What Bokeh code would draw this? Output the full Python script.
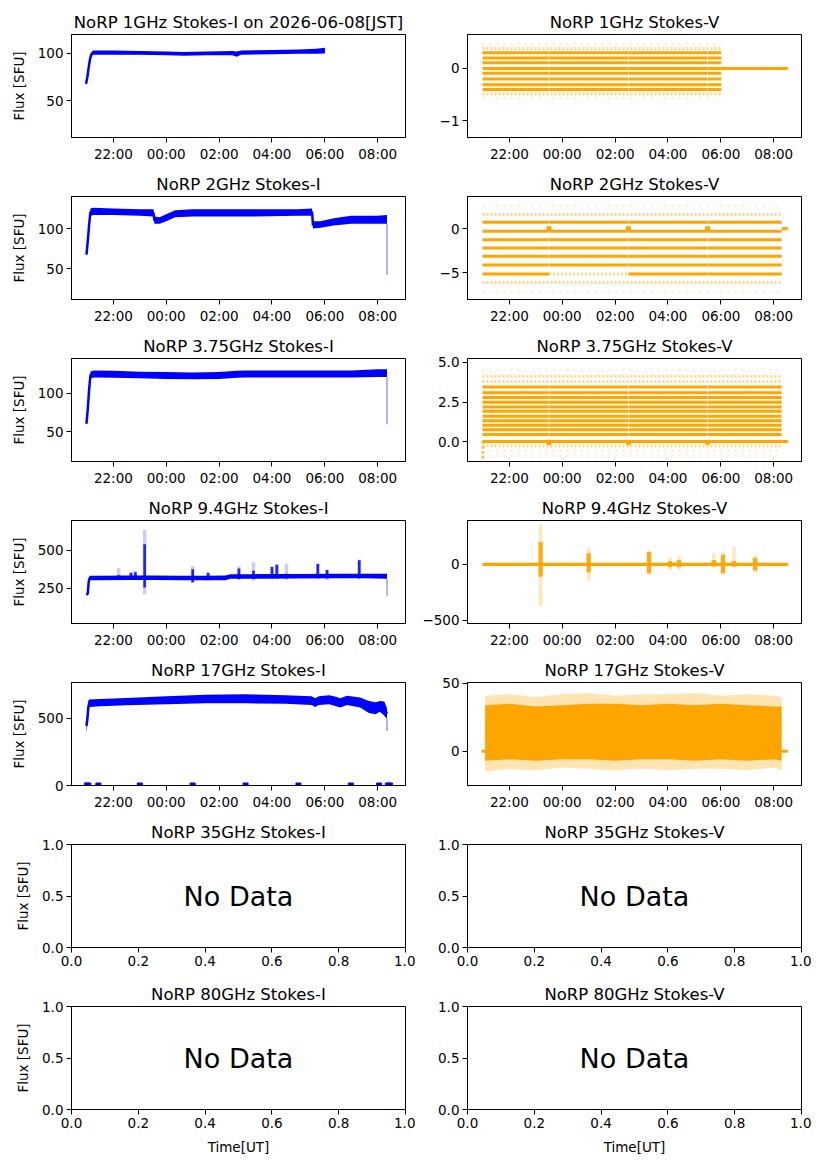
import pandas as pd
from bokeh.core.properties import value
from bokeh.embed import file_html
from bokeh.layouts import gridplot
from bokeh.models import FixedTicker, Range1d
from bokeh.plotting import figure
from bokeh.resources import INLINE

BASE = pd.Timestamp("2026-06-07")
FONT = "DejaVu Sans"
BLUE = "blue"
ORANGE = "orange"
MIN = 60 * 1000


def ms(hhmm):
    # times before noon are on the next UT day
    h, m = (int(v) for v in hhmm.split(":"))
    day = 1 if h < 12 else 0
    return (BASE + pd.Timedelta(days=day, hours=h, minutes=m)).value / 1e6


def mss(lst):
    return [ms(t) for t in lst]


time_ticks = ["22:00", "00:00", "02:00", "04:00", "06:00", "08:00"]
unit_ticks = [0.0, 0.2, 0.4, 0.6, 0.8, 1.0]
unit_labels = ["0.0", "0.2", "0.4", "0.6", "0.8", "1.0"]
half_ticks = [0.0, 0.5, 1.0]
half_labels = ["0.0", "0.5", "1.0"]

# ---- Stokes-I (band lower / upper edges) ----
i1_t = ["20:58", "21:01", "21:04", "21:07", "21:10", "21:14", "21:30", "22:00", "23:00", "00:00",
        "00:40", "01:30", "02:30", "02:40", "02:50", "04:00", "05:00", "05:40", "06:00"]
i1_lo = [66, 72, 82, 92, 97, 98.5, 98.5, 98.5, 98.5, 98, 97.5, 98, 98, 96.5, 98.5, 99, 99.5, 99.5, 100]
i1_hi = [70, 78, 88, 96, 101, 103, 103, 103, 102.5, 102, 101.5, 102, 102.5, 102, 103, 103.5, 104, 105, 106]

i2_t = ["20:59", "21:02", "21:05", "21:08", "21:15", "22:00", "23:00", "23:31", "23:33", "23:45", "00:00",
        "00:20", "01:00", "03:00", "05:00", "05:31", "05:33", "05:50", "06:20", "07:00", "08:00", "08:21"]
i2_lo = [65, 80, 100, 116, 117, 117, 116, 115, 106, 106, 109, 114, 115, 115, 116, 116, 100, 101, 104, 106, 106, 106]
i2_hi = [70, 90, 110, 125, 126, 125, 124, 124, 115, 114, 118, 123, 124, 124, 124, 125, 109, 109, 113, 116, 116, 117]
i2_drop = ("08:21", 42)

i3_t = ["20:59", "21:02", "21:05", "21:08", "21:15", "22:00", "23:00", "00:00", "01:00", "02:00",
        "02:40", "03:00", "05:00", "07:00", "08:00", "08:21"]
i3_lo = [58, 75, 100, 119, 120.5, 120, 119.5, 118.5, 118, 118.5, 120, 120.5, 120.5, 120.5, 121, 121]
i3_hi = [63, 85, 110, 128, 129.5, 129, 128, 127.5, 127, 127.5, 129, 129.5, 129.5, 129.5, 131, 131]
i3_drop = ("08:21", 60)

i4_t = ["20:59", "21:02", "21:04", "21:06", "21:30", "22:30", "23:30", "00:30", "01:30", "02:15",
        "02:25", "03:30", "05:00", "06:30", "07:30", "08:21"]
i4_lo = [200, 205, 280, 302, 303, 304, 304, 302, 302, 303, 312, 313, 314, 315, 316, 312]
i4_hi = [215, 225, 300, 332, 333, 334, 334, 333, 333, 334, 342, 343, 344, 345, 346, 346]
i4_drop = ("08:21", 200)
i4_spike_t = ["22:12", "22:40", "22:50", "23:11", "01:00", "01:35", "02:45", "03:18", "04:00",
              "04:11", "04:33", "05:44", "06:05", "07:18"]
i4_spike_lo = [310, 310, 310, 255, 290, 305, 310, 310, 315, 315, 315, 315, 315, 315]
i4_spike_hi = [335, 350, 355, 540, 375, 350, 380, 365, 390, 405, 345, 410, 370, 435]
i4_faint_lo = [305, 305, 305, 210, 285, 300, 305, 300, 310, 310, 305, 310, 305, 310]
i4_faint_hi = [385, 360, 365, 635, 395, 360, 395, 420, 395, 410, 410, 415, 375, 440]

i5_t = ["20:59", "21:01", "21:03", "21:05", "21:30", "22:30", "00:00", "01:30", "03:00", "04:30", "05:30",
        "05:38", "05:46", "06:10", "06:25", "06:35", "06:50", "07:20", "07:40", "07:55", "08:05", "08:15", "08:21"]
i5_lo = [390, 450, 520, 585, 590, 598, 605, 612, 612, 608, 600, 585, 600, 605, 590, 580, 600, 580, 540, 530,
         550, 520, 495]
i5_hi = [500, 540, 630, 640, 645, 652, 665, 675, 680, 672, 665, 650, 665, 672, 660, 650, 668, 655, 630, 620,
         630, 625, 575]
i5_drop = ("08:21", 405)
i5_zero_t = ["21:00", "21:03", "21:26", "23:00", "01:00", "03:00", "05:00", "06:59", "08:03", "08:23", "08:28"]

# ---- Stokes-V quantised levels ----
v_breaks = ["23:30", "02:30", "05:30"]

v1_lev = [0.47, 0.38, 0.30, 0.20, 0.11, 0.0, -0.09, -0.20, -0.31, -0.40, -0.49, -0.57, 0.0]
v1_kind = ["sparse", "semi", "dense", "dense", "dense", "dense", "dense", "dense", "dense", "dense",
           "semi", "sparse", "dense"]
v1_t0 = ["20:59"] * 12 + ["06:01"]
v1_t1 = ["06:01"] * 12 + ["08:32"]

v2_lev = [2.58, 1.59, 0.72, -0.30, -1.25, -2.20, -3.14, -4.13, -5.15, -5.15, -5.15, -6.10, -7.12, 0.0]
v2_kind = ["sparse", "semi", "dense", "dense", "dense", "dense", "dense", "dense", "dense", "semi",
           "dense", "semi", "sparse", "dense"]
v2_t0 = ["20:59"] * 9 + ["23:30", "02:30", "20:59", "20:59", "08:18"]
v2_t1 = ["08:18"] * 8 + ["23:30", "02:30", "08:18", "08:18", "08:18", "08:32"]
v2_marks = ["23:30", "02:30", "05:30"]

v3_lev = [0.0, 0.44, 0.74, 1.03, 1.32, 1.60, 1.91, 2.18, 2.48, 2.79, 3.09, 3.45, 3.80, 4.12, -0.27,
          4.54, -0.61, -0.92]
v3_kind = ["dense"] * 12 + ["semi"] * 3 + ["sparse"] * 3
v3_t0 = ["20:59"] * 18
v3_t1 = ["08:32"] + ["08:18"] * 17
v3_marks = ["23:30", "02:30", "05:30"]
v3_start = ("21:00", -1.1)

v4_t = ["20:59", "08:32"]
v4_lo = [-14, -14]
v4_hi = [14, 14]
v4_burst_t = ["23:11", "01:00", "03:17", "04:05", "04:25", "05:44", "06:05", "06:30", "07:18"]
v4_burst_lo = [-110, -70, -80, -25, -25, -20, -80, -20, -55]
v4_burst_hi = [200, 100, 110, 30, 40, 40, 85, 30, 60]
v4_faint_lo = [-370, -150, -95, -50, -50, -30, -95, -30, -70]
v4_faint_hi = [360, 150, 125, 60, 80, 105, 110, 155, 80]

v5_t = ["21:05", "22:00", "23:00", "00:00", "01:00", "02:00", "03:00", "04:00", "05:00", "06:00",
        "07:00", "08:00", "08:18"]
v5_lo = [-7, -6, -7, -6, -6, -7, -6, -6, -7, -6, -7, -6, -7]
v5_hi = [34, 35, 33, 34, 35, 35, 34, 35, 34, 35, 34, 33, 33]
v5_faint_lo = [-15, -13, -14, -12, -13, -14, -13, -14, -13, -13, -14, -12, -14]
v5_faint_hi = [41, 42, 40, 42, 43, 41, 42, 42, 43, 41, 42, 41, 40]
v5_zero_t = ["20:57", "08:32"]

time_range = Range1d(ms("20:25"), ms("09:03"))


def panel(title, col, row, y_range, yticks, ylabels, timed=True):
    p = figure(
        title=title,
        frame_width=334, frame_height=103,
        x_range=time_range if timed else Range1d(0, 1),
        y_range=Range1d(*y_range),
        x_axis_type="datetime" if timed else "linear",
        output_backend="svg", toolbar_location=None, tools="",
        min_border_left=71 if col == 0 else 52,
        min_border_right=10,
        min_border_top=34 if row == 0 else 26,
        min_border_bottom=50 if row == 6 else 33,
    )
    p.title.text_font = FONT
    p.title.text_font_size = "16.5px"
    p.title.text_font_style = "normal"
    p.title.text_color = "black"
    p.title.align = "center"
    p.title.standoff = 5
    p.outline_line_color = "black"
    p.outline_line_alpha = 1
    p.grid.visible = False
    for ax in (p.xaxis[0], p.yaxis[0]):
        ax.major_label_text_font = FONT
        ax.major_label_text_font_size = "13.5px"
        ax.major_label_text_color = "black"
        ax.major_tick_out = 5
        ax.major_tick_in = 0
        ax.minor_tick_out = 0
        ax.minor_tick_in = 0
        ax.major_label_standoff = 3
        ax.axis_label_text_font = FONT
        ax.axis_label_text_font_size = "13.5px"
        ax.axis_label_text_font_style = "normal"
        ax.axis_label_text_color = "black"
        ax.axis_label_standoff = 8
    p.yaxis.ticker = FixedTicker(ticks=yticks)
    p.yaxis.major_label_overrides = dict(zip(yticks, ylabels))
    if timed:
        xt = mss(time_ticks)
        p.xaxis.ticker = FixedTicker(ticks=xt)
        p.xaxis.major_label_overrides = dict(zip(xt, time_ticks))
    else:
        p.xaxis.ticker = FixedTicker(ticks=unit_ticks)
        p.xaxis.major_label_overrides = dict(zip(unit_ticks, unit_labels))
    if col == 0:
        p.yaxis.axis_label = "Flux [SFU]"
    if row == 6:
        p.xaxis.axis_label = "Time[UT]"
    return p


def stokes_i(p, t, lo, hi, drop=None):
    x = mss(t)
    p.varea(x=x, y1=lo, y2=hi, fill_color=BLUE)
    p.line(x, [(a + b) / 2 for a, b in zip(lo, hi)], line_color=BLUE, line_width=2.5)
    if drop:
        xd = ms(drop[0])
        p.segment(x0=[xd], y0=[drop[1]], x1=[xd], y1=[lo[-1]], line_color=BLUE, line_alpha=0.3, line_width=2)


STRIPE = {
    "sparse": dict(line_width=2.5, line_alpha=0.2, line_dash="2 5"),
    "semi": dict(line_width=3, line_alpha=0.45, line_dash="2 2"),
    "dense": dict(line_width=3, line_alpha=1.0),
}
GAP = 0.5 * MIN


def stripes(p, lev, kind, t0, t1):
    for k, style in STRIPE.items():
        x0, x1, ys = [], [], []
        for y, kk, a, b in zip(lev, kind, t0, t1):
            if kk != k:
                continue
            a, b = ms(a), ms(b)
            edges = [a]
            for bt in mss(v_breaks):
                if a < bt < b and k == "dense":
                    edges += [bt - GAP, bt + GAP]
            edges.append(b)
            for s, e in zip(edges[::2], edges[1::2]):
                x0.append(s)
                x1.append(e)
                ys.append(y)
        if ys:
            p.segment(x0=x0, y0=ys, x1=x1, y1=ys, line_color=ORANGE, **style)


def no_data(p):
    p.text(x=[0.5], y=[0.5], text=["No Data"], text_align="center", text_baseline="middle",
           text_font=value(FONT), text_font_size="27px", text_color="black")


rows = []

# 1 GHz
a = panel("NoRP 1GHz Stokes-I on 2026-06-08[JST]", 0, 0, (11, 120), [50, 100], ["50", "100"])
stokes_i(a, i1_t, i1_lo, i1_hi)
b = panel("NoRP 1GHz Stokes-V", 1, 0, (-1.32, 0.65), [-1, 0], ["\u22121", "0"])
stripes(b, v1_lev, v1_kind, v1_t0, v1_t1)
rows.append([a, b])

# 2 GHz
a = panel("NoRP 2GHz Stokes-I", 0, 1, (11.6, 140), [50, 100], ["50", "100"])
stokes_i(a, i2_t, i2_lo, i2_hi, i2_drop)
b = panel("NoRP 2GHz Stokes-V", 1, 1, (-8.03, 3.64), [-5, 0], ["\u22125", "0"])
stripes(b, v2_lev, v2_kind, v2_t0, v2_t1)
b.scatter(mss(v2_marks), [0.0] * len(v2_marks), marker="square", size=4, color=ORANGE)
rows.append([a, b])

# 3.75 GHz
a = panel("NoRP 3.75GHz Stokes-I", 0, 2, (11.6, 145), [50, 100], ["50", "100"])
stokes_i(a, i3_t, i3_lo, i3_hi, i3_drop)
b = panel("NoRP 3.75GHz Stokes-V", 1, 2, (-1.26, 5.25), [0.0, 2.5, 5.0], ["0.0", "2.5", "5.0"])
stripes(b, v3_lev, v3_kind, v3_t0, v3_t1)
b.scatter(mss(v3_marks), [-0.05] * len(v3_marks), marker="square", size=4, color=ORANGE)
b.segment(x0=[ms(v3_start[0])], y0=[v3_start[1]], x1=[ms(v3_start[0])], y1=[0.0],
          line_color=ORANGE, line_width=3, line_alpha=0.6, line_dash="3 2")
rows.append([a, b])

# 9.4 GHz
a = panel("NoRP 9.4GHz Stokes-I", 0, 3, (17, 697), [250, 500], ["250", "500"])
a.vbar(x=mss(i4_spike_t), width=8 * MIN, bottom=i4_faint_lo, top=i4_faint_hi,
       fill_color=BLUE, fill_alpha=0.2, line_color=None)
a.vbar(x=mss(i4_spike_t), width=6 * MIN, bottom=i4_spike_lo, top=i4_spike_hi,
       fill_color=BLUE, fill_alpha=0.85, line_color=None)
stokes_i(a, i4_t, i4_lo, i4_hi, i4_drop)
b = panel("NoRP 9.4GHz Stokes-V", 1, 3, (-530, 393), [-500, 0], ["\u2212500", "0"])
b.varea(x=mss(v4_t), y1=v4_lo, y2=v4_hi, fill_color=ORANGE)
b.vbar(x=mss(v4_burst_t), width=8 * MIN, bottom=v4_faint_lo, top=v4_faint_hi,
       fill_color=ORANGE, fill_alpha=0.25, line_color=None)
b.vbar(x=mss(v4_burst_t), width=10 * MIN, bottom=v4_burst_lo, top=v4_burst_hi,
       fill_color=ORANGE, fill_alpha=0.9, line_color=None)
rows.append([a, b])

# 17 GHz
a = panel("NoRP 17GHz Stokes-I", 0, 4, (0, 767), [0, 500], ["0", "500"])
stokes_i(a, i5_t, i5_lo, i5_hi, i5_drop)
a.scatter(mss(i5_zero_t), [0] * len(i5_zero_t), marker="square", size=5, color=BLUE)
b = panel("NoRP 17GHz Stokes-V", 1, 4, (-25.3, 50.7), [0, 50], ["0", "50"])
b.line(mss(v5_zero_t), [0, 0], line_color=ORANGE, line_width=3)
b.varea(x=mss(v5_t), y1=v5_faint_lo, y2=v5_faint_hi, fill_color=ORANGE, fill_alpha=0.3)
b.varea(x=mss(v5_t), y1=v5_lo, y2=v5_hi, fill_color=ORANGE)
rows.append([a, b])

# 35 / 80 GHz: empty
for r, ghz in ((5, "35"), (6, "80")):
    a = panel(f"NoRP {ghz}GHz Stokes-I", 0, r, (0, 1), half_ticks, half_labels, timed=False)
    no_data(a)
    b = panel(f"NoRP {ghz}GHz Stokes-V", 1, r, (0, 1), half_ticks, half_labels, timed=False)
    no_data(b)
    rows.append([a, b])

grid = gridplot(rows, toolbar_location=None)
open("out.html", "w").write(file_html(grid, INLINE))
